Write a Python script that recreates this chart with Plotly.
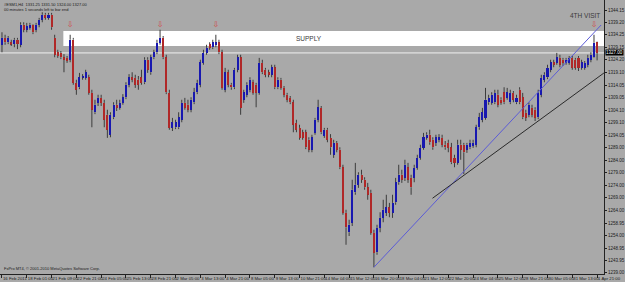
import plotly.graph_objects as go

# ---------------- data (H4 bars, ESM1, 16 Feb 2011 -> 1 Apr 2011) ----------------
opens = [1330.25, 1333.00, 1331.25, 1331.25, 1330.50, 1332.25, 1330.25, 1338.25, 1336.25, 1337.00,
         1338.25, 1336.25, 1338.25, 1340.25, 1342.25, 1341.00, 1342.25, 1333.00, 1327.25, 1327.00,
         1325.25, 1325.00, 1324.25, 1332.25, 1315.00, 1313.25, 1317.25, 1317.00, 1317.25, 1311.00,
         1303.25, 1307.00, 1309.00, 1307.00, 1302.25, 1294.25, 1301.25, 1306.25, 1305.00, 1307.00,
         1309.25, 1314.25, 1317.25, 1317.00, 1316.25, 1317.25, 1315.25, 1324.25, 1319.25, 1325.25,
         1327.25, 1331.00, 1333.00, 1325.25, 1311.00, 1297.00, 1297.25, 1297.25, 1300.25, 1307.00,
         1306.25, 1304.25, 1307.25, 1311.25, 1314.25, 1323.00, 1327.00, 1330.50, 1329.25, 1330.25,
         1331.25, 1327.25, 1312.25, 1319.25, 1314.25, 1313.25, 1320.25, 1325.25, 1308.25, 1310.25,
         1312.25, 1315.25, 1314.25, 1311.00, 1323.00, 1320.25, 1319.25, 1318.25, 1321.25, 1313.25,
         1316.25, 1313.00, 1310.25, 1309.00, 1307.25, 1299.00, 1297.00, 1295.25, 1295.25, 1292.25,
         1288.25, 1295.00, 1300.25, 1305.00, 1293.75, 1296.25, 1293.00, 1286.25, 1291.00, 1288.25,
         1281.25, 1263.00, 1255.25, 1259.00, 1271.25, 1274.25, 1278.25, 1276.25, 1273.25, 1271.00,
         1255.00, 1247.25, 1257.00, 1261.00, 1263.00, 1265.25, 1263.00, 1267.25, 1275.25, 1278.25,
         1277.00, 1281.25, 1277.00, 1277.00, 1281.00, 1285.00, 1289.00, 1293.00, 1294.25, 1292.25,
         1291.00, 1292.25, 1293.00, 1290.25, 1291.00, 1289.25, 1285.00, 1283.00, 1290.25, 1290.25,
         1288.25, 1289.25, 1289.75, 1290.25, 1297.25, 1300.25, 1301.00, 1307.25, 1307.00, 1307.25,
         1310.25, 1308.25, 1311.25, 1309.00, 1307.25, 1311.00, 1307.25, 1312.25, 1309.25, 1303.00,
         1302.25, 1305.00, 1304.25, 1301.25, 1310.25, 1316.25, 1317.25, 1320.25, 1323.25, 1323.00,
         1325.00, 1324.25, 1323.00, 1323.00, 1325.00, 1324.25, 1325.00, 1321.00, 1321.00, 1322.25,
         1324.25, 1325.25, 1331.25]
closes = [1333.00, 1331.25, 1333.00, 1330.50, 1332.25, 1330.50, 1338.25, 1336.25, 1337.75, 1338.25,
          1335.25, 1338.25, 1340.25, 1342.25, 1341.00, 1342.25, 1337.25, 1326.25, 1325.75, 1325.25,
          1324.25, 1323.75, 1332.25, 1315.00, 1312.25, 1317.25, 1317.75, 1319.25, 1311.00, 1304.25,
          1306.25, 1309.00, 1307.00, 1300.25, 1296.25, 1302.25, 1306.25, 1305.00, 1307.00, 1309.25,
          1314.25, 1317.25, 1316.25, 1314.25, 1314.25, 1315.00, 1324.25, 1320.25, 1325.25, 1327.25,
          1331.00, 1333.00, 1325.25, 1311.25, 1297.00, 1299.25, 1299.25, 1301.25, 1307.00, 1305.00,
          1304.25, 1308.25, 1311.25, 1315.00, 1323.25, 1327.00, 1329.00, 1329.00, 1331.25, 1331.25,
          1327.25, 1313.00, 1319.25, 1314.25, 1313.25, 1320.25, 1325.25, 1305.00, 1311.25, 1314.25,
          1316.25, 1311.00, 1311.00, 1323.00, 1319.25, 1318.25, 1318.25, 1321.25, 1313.25, 1316.25,
          1313.00, 1310.25, 1308.25, 1307.25, 1298.25, 1296.25, 1293.00, 1293.00, 1289.25, 1288.25,
          1293.25, 1300.25, 1305.25, 1295.25, 1296.25, 1292.25, 1289.25, 1291.00, 1288.25, 1281.25,
          1263.00, 1257.25, 1258.25, 1272.25, 1274.25, 1278.25, 1276.25, 1273.25, 1270.25, 1255.00,
          1247.00, 1257.00, 1261.00, 1264.25, 1265.25, 1263.00, 1267.00, 1275.25, 1278.25, 1276.25,
          1282.25, 1276.25, 1273.25, 1281.00, 1285.00, 1289.00, 1293.25, 1294.25, 1291.25, 1289.25,
          1293.25, 1293.25, 1290.25, 1289.25, 1289.00, 1283.25, 1283.00, 1290.25, 1288.25, 1287.25,
          1290.25, 1291.00, 1291.00, 1297.25, 1301.25, 1303.25, 1308.25, 1309.00, 1310.25, 1311.00,
          1306.25, 1307.00, 1307.25, 1311.25, 1311.00, 1308.25, 1309.00, 1307.25, 1301.25, 1301.00,
          1306.25, 1302.25, 1301.00, 1311.00, 1317.00, 1318.25, 1321.00, 1323.25, 1322.25, 1325.25,
          1322.25, 1323.00, 1324.25, 1325.00, 1321.00, 1321.00, 1321.00, 1323.25, 1323.00, 1325.00,
          1326.25, 1331.00, 1327.00]
highs = [1335.25, 1334.25, 1333.75, 1332.25, 1333.00, 1333.00, 1339.25, 1339.25, 1339.00, 1339.00,
         1338.50, 1339.00, 1341.00, 1343.25, 1343.00, 1343.00, 1343.00, 1334.25, 1328.25, 1327.75,
         1326.50, 1325.75, 1334.25, 1333.00, 1316.25, 1319.00, 1318.50, 1320.25, 1318.25, 1312.25,
         1308.25, 1310.25, 1310.25, 1308.25, 1304.25, 1303.25, 1307.25, 1308.25, 1308.25, 1310.50,
         1315.25, 1318.50, 1319.25, 1318.25, 1317.75, 1320.25, 1325.25, 1325.25, 1326.25, 1328.25,
         1332.25, 1336.25, 1333.75, 1326.25, 1312.25, 1301.00, 1300.25, 1303.25, 1308.25, 1309.00,
         1308.25, 1309.25, 1313.00, 1316.25, 1324.25, 1328.25, 1330.25, 1331.25, 1332.25, 1334.25,
         1332.25, 1328.25, 1321.00, 1320.25, 1315.00, 1321.00, 1326.25, 1326.25, 1312.25, 1315.25,
         1317.25, 1316.25, 1315.00, 1325.00, 1324.25, 1321.00, 1320.25, 1322.25, 1322.25, 1317.25,
         1317.00, 1313.75, 1311.00, 1309.75, 1308.25, 1300.25, 1298.25, 1296.25, 1296.25, 1293.25,
         1294.25, 1301.00, 1308.25, 1305.75, 1297.00, 1297.00, 1294.50, 1292.25, 1291.75, 1289.25,
         1282.25, 1264.25, 1260.25, 1276.25, 1283.00, 1279.25, 1280.25, 1277.25, 1275.00, 1272.25,
         1256.25, 1258.25, 1263.25, 1268.25, 1270.25, 1267.00, 1270.25, 1277.00, 1282.25, 1280.25,
         1284.25, 1283.00, 1278.25, 1282.25, 1286.25, 1290.25, 1295.00, 1295.25, 1296.25, 1293.25,
         1294.25, 1294.50, 1294.25, 1291.75, 1292.25, 1291.00, 1286.25, 1292.25, 1292.25, 1291.00,
         1291.00, 1292.25, 1292.25, 1298.25, 1303.00, 1305.00, 1313.00, 1310.25, 1311.25, 1312.25,
         1312.25, 1309.25, 1313.25, 1313.00, 1312.25, 1311.75, 1310.25, 1313.25, 1311.00, 1304.25,
         1307.25, 1306.25, 1305.25, 1312.25, 1318.25, 1319.25, 1322.25, 1324.25, 1324.25, 1327.00,
         1326.25, 1325.00, 1325.00, 1325.75, 1325.75, 1325.00, 1325.75, 1324.25, 1323.75, 1326.25,
         1327.25, 1334.25, 1331.50]
lows = [1327.25, 1330.25, 1330.50, 1329.75, 1329.25, 1328.50, 1329.25, 1335.25, 1335.25, 1336.25,
        1334.50, 1335.25, 1337.25, 1339.25, 1340.25, 1340.25, 1336.25, 1325.25, 1325.00, 1324.50,
        1319.25, 1323.00, 1323.25, 1314.25, 1310.25, 1312.50, 1316.25, 1316.25, 1310.25, 1297.25,
        1302.50, 1305.75, 1305.75, 1297.25, 1293.00, 1293.25, 1300.50, 1303.75, 1304.25, 1306.25,
        1308.50, 1313.25, 1315.25, 1313.00, 1312.25, 1314.25, 1314.50, 1319.00, 1318.25, 1324.50,
        1326.50, 1330.25, 1324.50, 1310.50, 1296.25, 1295.75, 1296.50, 1296.50, 1299.25, 1304.25,
        1303.25, 1303.25, 1306.50, 1310.50, 1313.25, 1322.25, 1326.25, 1328.25, 1328.50, 1329.25,
        1326.50, 1312.25, 1311.25, 1313.25, 1312.25, 1312.50, 1319.25, 1302.25, 1307.00, 1309.25,
        1311.25, 1310.25, 1305.25, 1310.25, 1318.50, 1317.25, 1317.25, 1317.25, 1312.50, 1312.50,
        1312.25, 1309.25, 1307.25, 1306.50, 1295.25, 1295.25, 1292.25, 1292.25, 1288.50, 1287.25,
        1287.25, 1294.25, 1299.25, 1294.50, 1293.00, 1291.25, 1286.25, 1285.00, 1287.25, 1280.50,
        1262.25, 1250.25, 1253.75, 1257.75, 1270.25, 1273.00, 1275.00, 1272.25, 1268.25, 1254.25,
        1241.25, 1246.25, 1255.25, 1259.25, 1261.75, 1261.25, 1261.00, 1266.25, 1274.25, 1275.00,
        1275.75, 1275.00, 1270.25, 1275.25, 1280.25, 1284.25, 1288.25, 1292.25, 1290.25, 1288.25,
        1289.75, 1291.25, 1289.25, 1288.25, 1287.25, 1282.50, 1281.25, 1282.25, 1284.25, 1278.50,
        1287.00, 1288.50, 1289.00, 1289.25, 1296.25, 1299.25, 1300.25, 1306.25, 1306.25, 1306.50,
        1305.25, 1306.25, 1306.50, 1308.25, 1306.50, 1307.25, 1306.50, 1306.50, 1300.50, 1299.75,
        1301.25, 1301.25, 1299.75, 1300.50, 1309.25, 1315.25, 1316.50, 1319.25, 1321.25, 1322.25,
        1321.25, 1321.75, 1322.25, 1322.25, 1320.25, 1320.25, 1319.75, 1320.25, 1320.25, 1321.25,
        1323.25, 1325.00, 1324.00]

tick_bars = list(range(0, 193, 8))
tick_labels = ["16 Feb 2011", "18 Feb 01:00", "21 Feb 09:00", "22 Feb 21:00", "24 Feb 05:00",
               "25 Feb 13:00", "28 Feb 21:00", "2 Mar 05:00", "3 Mar 13:00", "4 Mar 21:00",
               "8 Mar 05:00", "9 Mar 13:00", "10 Mar 21:00", "14 Mar 04:00", "15 Mar 12:00",
               "16 Mar 20:00", "18 Mar 04:00", "21 Mar 12:00", "22 Mar 20:00", "24 Mar 04:00",
               "25 Mar 12:00", "28 Mar 21:00", "30 Mar 05:00", "31 Mar 13:00", "1 Apr 21:00"]
price_ticks = [1344.15, 1339.20, 1334.25, 1329.15, 1324.20, 1319.10, 1314.05, 1309.05, 1304.10,
               1299.10, 1294.05, 1289.00, 1284.00, 1279.00, 1274.00, 1269.00, 1264.00, 1258.95,
               1254.00, 1248.95, 1243.95, 1239.00]

supply_top, supply_bottom, supply_start = 1335.75, 1329.75, 19.8
bid_price = 1327.00
blue_line = ([120, 193.3], [1241.25, 1338.15])
black_line = ([138.9, 194.2], [1268.85, 1318.95])
arrow_bars = [22, 51, 69, 191]
arrow_prices = [1338.15, 1338.15, 1338.15, 1338.15]

# ---------------- figure ----------------
UP, DOWN, WICK, BG = "#1818b0", "#b02828", "#3c3c3c", "#a9a9a9"
idx = list(range(len(opens)))

body_base = [min(o, c) for o, c in zip(opens, closes)]
body_h = [max(abs(c - o), 0.4) for o, c in zip(opens, closes)]
body_col = [UP if c >= o else DOWN for o, c in zip(opens, closes)]

wx, wy = [], []
for i, o, c, h, l in zip(idx, opens, closes, highs, lows):
    top, bot = max(o, c), min(o, c)
    if h > top:
        wx += [i, i, None]; wy += [h, top, None]
    if l < bot:
        wx += [i, i, None]; wy += [bot, l, None]

fig = go.Figure()
fig.add_trace(go.Bar(x=idx, y=body_h, base=body_base, width=0.66,
                     marker=dict(color=body_col, line=dict(width=0)), hoverinfo="skip"))
fig.add_trace(go.Scatter(x=wx, y=wy, mode="lines", line=dict(color=WICK, width=1),
                         hoverinfo="skip"))
fig.add_trace(go.Scatter(x=arrow_bars, y=arrow_prices, mode="text", text=["⇩"] * len(arrow_bars),
                         textfont=dict(family="DejaVu Sans", size=8, color="#d04545"),
                         hoverinfo="skip"))

fig.add_shape(type="rect", xref="x", yref="y", x0=supply_start, x1=260,
              y0=supply_bottom, y1=supply_top, fillcolor="white", line=dict(width=0), layer="below")
fig.add_shape(type="line", xref="paper", yref="y", x0=0, x1=1, y0=bid_price, y1=bid_price,
              line=dict(color="#d2d2d2", width=1.6), layer="below")
fig.add_shape(type="line", xref="x", yref="y", x0=blue_line[0][0], x1=blue_line[0][1],
              y0=blue_line[1][0], y1=blue_line[1][1], line=dict(color="#5c5cd6", width=1))
fig.add_shape(type="line", xref="x", yref="y", x0=black_line[0][0], x1=black_line[0][1],
              y0=black_line[1][0], y1=black_line[1][1], line=dict(color="#2a2a2a", width=1))

FONT = "Liberation Sans"
fig.add_annotation(x=99, y=(supply_top + supply_bottom) / 2, xref="x", yref="y", text="SUPPLY",
                   showarrow=False, font=dict(family=FONT, size=6.5, color="#3a3a3a"))
fig.add_annotation(x=188, y=1341.8, xref="x", yref="y", text="4TH VISIT", showarrow=False,
                   font=dict(family=FONT, size=6.5, color="#3a3a3a"))
fig.add_annotation(x=0.003, y=1.0, xref="paper", yref="paper", xanchor="left", yanchor="top",
                   text="#ESM1,H4  1331.25 1331.50 1324.00 1327.00<br>00 minutes 1 seconds left to bar end",
                   showarrow=False, align="left",
                   font=dict(family=FONT, size=4, color="#1a1a1a"))
fig.add_annotation(x=0.003, y=0.005, xref="paper", yref="paper", xanchor="left", yanchor="bottom",
                   text="FxPro MT4, © 2001-2010 MetaQuotes Software Corp.", showarrow=False,
                   font=dict(family=FONT, size=4, color="#1a1a1a"))
fig.add_annotation(x=1.0, y=bid_price, xref="paper", yref="y", xanchor="left", yanchor="middle",
                   xshift=1, text="1327.00", showarrow=False, bgcolor="black", borderpad=0,
                   font=dict(family=FONT, size=4.5, color="white"))

fig.update_layout(
    width=625, height=282, margin=dict(l=0, r=15, t=0, b=8),
    paper_bgcolor=BG, plot_bgcolor=BG, showlegend=False, bargap=0,
    xaxis=dict(range=[-0.639, 194.23], showgrid=False, zeroline=False, tickmode="array",
               tickvals=tick_bars, ticktext=tick_labels, ticks="outside", ticklen=3,
               tickcolor="#222", ticklabelposition="outside right", tickangle=0, showline=True,
               linecolor="#222", linewidth=1, tickfont=dict(family=FONT, size=4.3, color="#1a1a1a"),
               fixedrange=True),
    yaxis=dict(range=[1238.55, 1348.15], side="right", showgrid=False, zeroline=False,
               tickmode="array", tickvals=price_ticks, ticktext=[f"{v:.2f}" for v in price_ticks],
               ticks="outside", ticklen=2, tickcolor="#222", showline=True, linecolor="#222",
               linewidth=1, tickfont=dict(family=FONT, size=4.5, color="#1a1a1a"), fixedrange=True),
)

fig.write_html("out.html")
